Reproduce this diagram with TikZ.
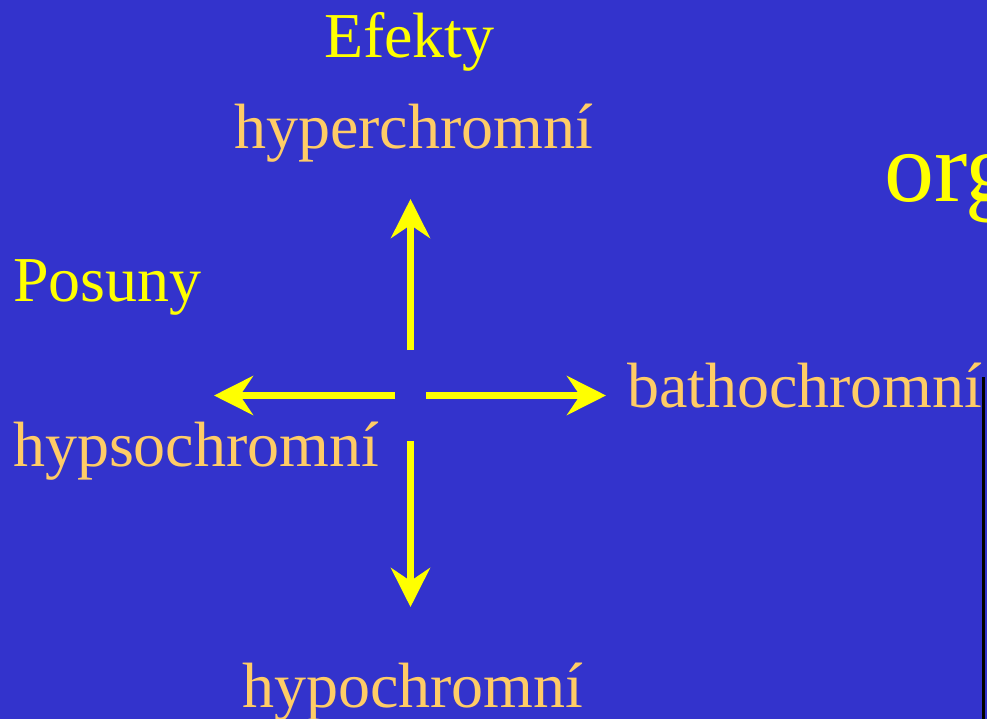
\documentclass[tikz,border=0pt]{standalone}
\usepackage{fontspec}
\setmainfont{Liberation Serif}
\usetikzlibrary{arrows.meta}
\definecolor{bgblue}{RGB}{51,51,204}
\definecolor{tyellow}{RGB}{255,255,0}
\definecolor{torange}{RGB}{255,204,102}
\begin{document}
\begin{tikzpicture}[x=1pt,y=-1pt,
  lbl/.style={anchor=base west,inner sep=0pt,outer sep=0pt,font=\fontsize{64}{70}\selectfont},
  ylbl/.style={lbl,text=tyellow},
  olbl/.style={lbl,text=torange},
  arr/.style={draw=tyellow,line width=7.7pt,line cap=butt,-{Stealth[length=39pt,width=39pt,inset=13pt]}}]
\useasboundingbox (0,0) rectangle (987,719);
\clip (0,0) rectangle (987,719);
\fill[bgblue] (0,0) rectangle (987,719);
\fill[black] (982,377) rectangle (984.5,719);
% texts
\node[ylbl] (efekty) at (324,58) {Efekty};
\node[olbl] (hyper) at (234,149) {hyperchromní};
\node[ylbl] (posuny) at (13,301) {Posuny};
\node[olbl] (hypso) at (13,466) {hypsochromní};
\node[olbl] (batho) at (627,407) {bathochromní};
\node[olbl] (hypo) at (242,707) {hypochromní};
\node[anchor=base west,inner sep=0pt,text=tyellow,font=\fontsize{100}{110}\selectfont] (org) at (884,202) {org};
% arrows
\coordinate (upS) at (410.5,350);
\coordinate (upT) at (410.5,199);
\coordinate (dnS) at (410.5,441);
\coordinate (dnT) at (410.5,607);
\coordinate (lfS) at (395,395.5);
\coordinate (lfT) at (214,395.5);
\coordinate (rtS) at (426,395.5);
\coordinate (rtT) at (606,395.5);
\draw[arr] (upS) -- (upT);
\draw[arr] (dnS) -- (dnT);
\draw[arr] (lfS) -- (lfT);
\draw[arr] (rtS) -- (rtT);
\end{tikzpicture}
\end{document}
